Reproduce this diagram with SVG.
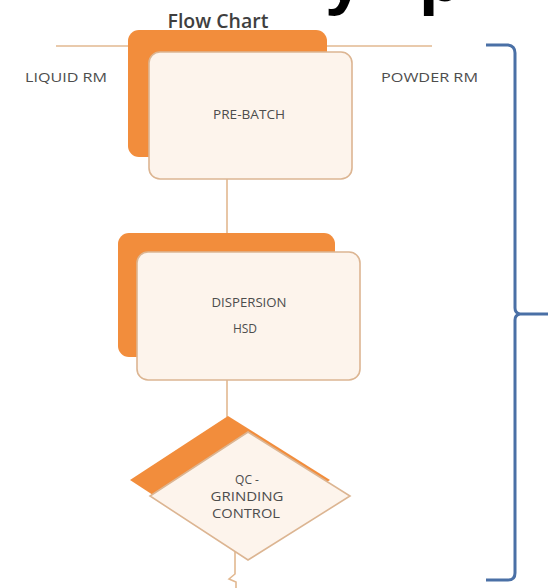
<svg xmlns="http://www.w3.org/2000/svg" width="551" height="588" viewBox="0 0 551 588">
<style>
.back{fill:#f28d3c;}
.front{fill:#fdf4ec;stroke:#dcb592;stroke-width:1.6;}
.lbl{font-family:"Open Sans","Liberation Sans",sans-serif;font-size:12px;fill:#4d4d4d;text-anchor:middle;}
.side{font-family:"Open Sans","Liberation Sans",sans-serif;font-size:12.5px;fill:#4d4d4d;}
.conn{stroke:#e2b890;stroke-width:1.6;fill:none;}
.brace{stroke:#4a70a6;stroke-width:3;fill:none;stroke-linejoin:round;}
.frag{font-family:"Liberation Sans",sans-serif;font-weight:bold;font-size:70px;fill:#000000;}
</style>
<rect width="551" height="588" fill="#ffffff"/>
<g id="title-fragment">
<text class="frag" x="325" y="1">y</text>
<text class="frag" x="419" y="1">p</text>
</g>
<g id="title">
<text x="218" y="28" font-family="Open Sans, Liberation Sans, sans-serif" font-size="19.5" font-weight="600" fill="#3f3f3f" text-anchor="middle">Flow Chart</text>
</g>
<g id="connectors">
<line class="conn" x1="56" y1="46" x2="432" y2="46"/>
<line class="conn" x1="227" y1="179" x2="227" y2="233"/>
<line class="conn" x1="227" y1="380" x2="227" y2="417"/>
<path class="conn" d="M235 551 L235 574 L229 579 L236 582 L236 588"/>
</g>
<g id="pre-batch">
<rect class="back" x="128" y="30" width="199" height="127" rx="11"/>
<rect class="front" x="149" y="52" width="203" height="127" rx="11"/>
<text class="lbl" x="249" y="119" textLength="72" lengthAdjust="spacingAndGlyphs">PRE-BATCH</text>
</g>
<g id="dispersion">
<rect class="back" x="118" y="233" width="217" height="124" rx="11"/>
<rect class="front" x="137" y="252" width="223" height="128" rx="11"/>
<text class="lbl" x="249" y="307" textLength="75" lengthAdjust="spacingAndGlyphs">DISPERSION</text>
<text class="lbl" x="245" y="333">HSD</text>
</g>
<g id="qc-grinding-control">
<polygon class="back" points="228,416 330,480 228,544 130,480"/>
<polygon class="front" points="248,432 350,496 248,560 150,496"/>
<text class="lbl" x="247" y="484">QC -</text>
<text class="lbl" x="247" y="501" textLength="73" lengthAdjust="spacingAndGlyphs">GRINDING</text>
<text class="lbl" x="246" y="518" textLength="68" lengthAdjust="spacingAndGlyphs">CONTROL</text>
</g>
<g id="liquid-rm">
<text class="side" x="25" y="82" textLength="82" lengthAdjust="spacingAndGlyphs">LIQUID RM</text>
</g>
<g id="powder-rm">
<text class="side" x="381" y="82" textLength="97" lengthAdjust="spacingAndGlyphs">POWDER RM</text>
</g>
<g id="brace">
<path class="brace" d="M486 45 L508 45 Q515 46 515 53 L515 308 Q515 313 520 314 L548 314 M520 314 Q515 315 515 320 L515 573 Q515 580 508 580 L486 580"/>
</g>
</svg>
